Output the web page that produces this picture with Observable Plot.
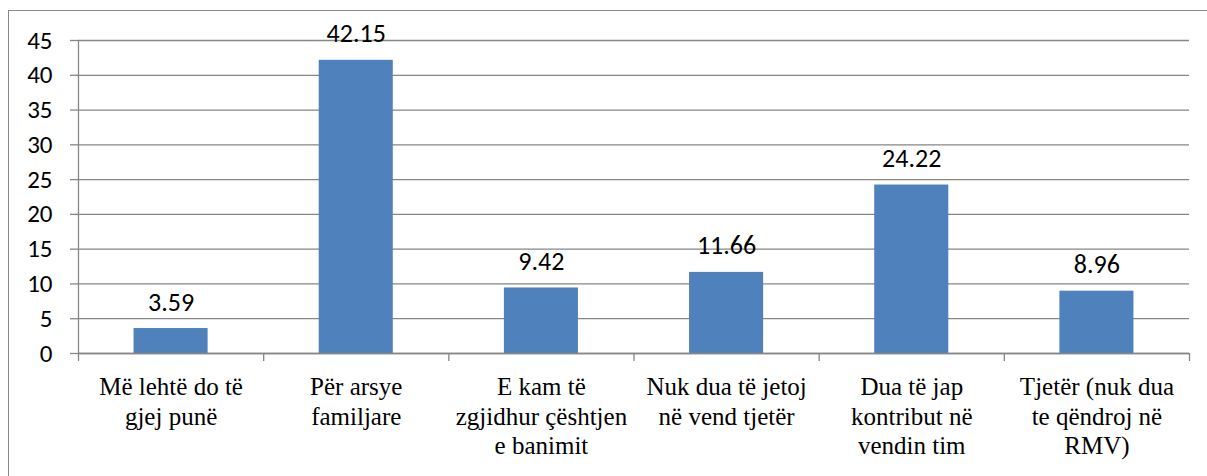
<!DOCTYPE html>
<html>
<head>
<meta charset="utf-8">
<script src="https://cdn.jsdelivr.net/npm/d3@7"></script>
<script src="https://cdn.jsdelivr.net/npm/@observablehq/plot@0.6"></script>
<style>
  html, body { margin: 0; padding: 0; background: #fff; overflow: hidden; }
  #wrap { position: relative; width: 1207px; height: 476px; }
  #frame { position: absolute; left: 8px; top: 10px; width: 1220px; height: 500px; border: 1.5px solid #888; box-sizing: border-box; pointer-events: none; }
</style>
</head>
<body>
<div id="wrap"><div id="frame"></div></div>
<script>
const categories = [
  "Më lehtë do të\ngjej punë",
  "Për arsye\nfamiljare",
  "E kam të\nzgjidhur çështjen\ne banimit",
  "Nuk dua të jetoj\nnë vend tjetër",
  "Dua të jap\nkontribut në\nvendin tim",
  "Tjetër (nuk dua\nte qëndroj në\nRMV)"
];
const values = [3.59, 42.15, 9.42, 11.66, 24.22, 8.96];
const valueLabels = ["3.59", "42.15", "9.42", "11.66", "24.22", "8.96"];
const yTicks = [0, 5, 10, 15, 20, 25, 30, 35, 40, 45];

const data = categories.map((c, i) => ({i, c, v: values[i], lbl: valueLabels[i]}));
const boundaries = d3.range(categories.length + 1);

const chart = Plot.plot({
  width: 1207,
  height: 476,
  marginLeft: 78,
  marginRight: 18,
  marginTop: 40,
  marginBottom: 123,
  style: {background: "transparent", overflow: "visible"},
  x: {domain: [0, categories.length]},
  y: {domain: [0, 45]},
  marks: [
    Plot.gridY(yTicks, {stroke: "#868686", strokeOpacity: 1, strokeWidth: 1.3}),
    Plot.rectY(data, {x1: d => d.i + 0.3, x2: d => d.i + 0.7, y: "v", fill: "#4F81BD"}),
    Plot.axisY(yTicks, {tickSize: 8, tickPadding: 18, stroke: "#868686", strokeWidth: 1.3,
      fontSize: 25, fontFamily: "Carlito", fill: "#000", label: null}),
    Plot.ruleX([0], {stroke: "#868686", strokeWidth: 1.3}),
    Plot.ruleY([0], {stroke: "#868686", strokeWidth: 1.3}),
    Plot.axisX(boundaries, {tickSize: 8, tickFormat: () => "", stroke: "#868686", strokeWidth: 1.3, label: null}),
    Plot.text(data, {x: d => d.i + 0.5, y: 0, text: "c", lineAnchor: "top", dy: 21, lineHeight: 1.18,
      fontSize: 25, fontFamily: "Liberation Serif, Carlito", fill: "#000"}),
    Plot.text(data, {x: d => d.i + 0.5, y: "v", text: "lbl", lineAnchor: "bottom", dy: -18,
      fontSize: 26, fontFamily: "Carlito", fill: "#000"})
  ]
});
document.getElementById("wrap").insertBefore(chart, document.getElementById("frame"));
</script>
</body>
</html>
